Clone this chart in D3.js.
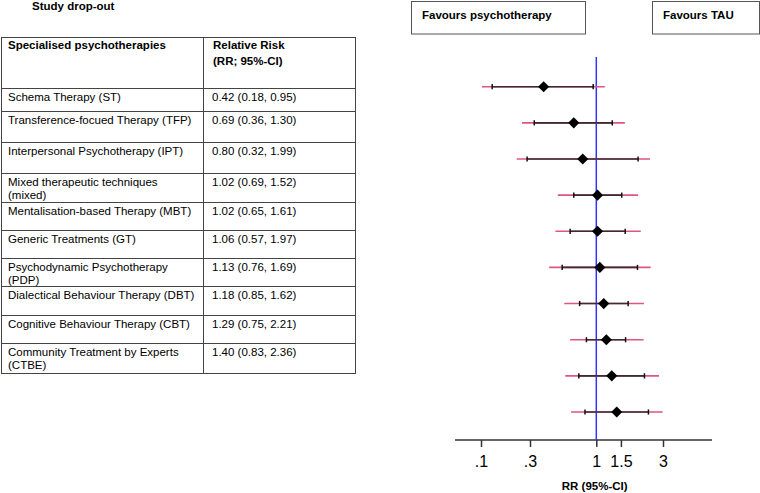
<!DOCTYPE html>
<html><head><meta charset="utf-8">
<script src="https://cdn.jsdelivr.net/npm/d3@7"></script>
<style>
body{margin:0;background:#fff}
svg{display:block}
text{font-family:"Liberation Sans",Arial,Helvetica,sans-serif;fill:#000}
</style>
</head><body>
<svg id="chart" width="760" height="493"></svg>
<script>
// ---- data ----
const title = "Study drop-out";
const colHeader1 = "Specialised psychotherapies";
const colHeader2 = ["Relative Risk", "(RR; 95%-CI)"];
const favourLabels = ["Favours psychotherapy", "Favours TAU"];
const axisTitle = "RR (95%-CI)";
const categories = [
  "Schema Therapy (ST)",
  "Transference-focued Therapy (TFP)",
  "Interpersonal Psychotherapy (IPT)",
  "Mixed therapeutic techniques (mixed)",
  "Mentalisation-based Therapy (MBT)",
  "Generic Treatments (GT)",
  "Psychodynamic Psychotherapy (PDP)",
  "Dialectical Behaviour Therapy (DBT)",
  "Cognitive Behaviour Therapy (CBT)",
  "Community Treatment by Experts (CTBE)"
];
const rr     = [0.42, 0.69, 0.80, 1.02, 1.02, 1.06, 1.13, 1.18, 1.29, 1.40];
const ciLow  = [0.18, 0.36, 0.32, 0.69, 0.65, 0.57, 0.76, 0.85, 0.75, 0.83];
const ciHigh = [0.95, 1.30, 1.99, 1.52, 1.61, 1.97, 1.69, 1.62, 2.21, 2.36];
// prediction intervals (pink)
const piLow  = [0.152, 0.294, 0.27, 0.53, 0.51, 0.46, 0.59, 0.65, 0.60, 0.66];
const piHigh = [1.15, 1.60, 2.42, 1.99, 2.08, 2.45, 2.19, 2.18, 2.81, 2.98];
const tickValues = [0.1, 0.3, 1, 1.5, 3];
const tickLabels = [".1", ".3", "1", "1.5", "3"];

// ---- layout ----
const svg = d3.select("#chart");
const FONT = 11.5;

// title
svg.append("text").attr("x", 32).attr("y", 10)
  .attr("font-size", FONT).attr("font-weight", "bold").text(title);

// ---- table ----
const tbl = {left: 1, right: 355, divider: 203};
const rowLines = [37, 88, 111, 142, 173, 202, 230, 258, 286, 315, 343, 373];
const tg = svg.append("g").attr("stroke", "#444").attr("stroke-width", 1).attr("fill", "none");
tg.append("rect").attr("x", tbl.left + 0.5).attr("y", rowLines[0] + 0.5)
  .attr("width", tbl.right - tbl.left).attr("height", rowLines[rowLines.length - 1] - rowLines[0]);
tg.append("line").attr("x1", tbl.divider + 0.5).attr("x2", tbl.divider + 0.5)
  .attr("y1", rowLines[0]).attr("y2", rowLines[rowLines.length - 1]);
tg.selectAll("line.h").data(rowLines.slice(1, -1)).join("line").attr("class", "h")
  .attr("x1", tbl.left).attr("x2", tbl.right + 0.5)
  .attr("y1", d => d + 0.5).attr("y2", d => d + 0.5);

svg.append("text").attr("x", 8).attr("y", 49).attr("font-size", FONT)
  .attr("font-weight", "bold").text(colHeader1);
svg.selectAll("text.h2").data(colHeader2).join("text").attr("class", "h2")
  .attr("x", 213).attr("y", (d, i) => 49 + i * 15.5)
  .attr("font-size", FONT).attr("font-weight", "bold").text(d => d);

const fmt = d3.format(".2f");
categories.forEach((name, i) => {
  const top = rowLines[i + 1];
  const t = svg.append("text").attr("x", 8).attr("y", top + 13.2).attr("font-size", FONT).text(name);
  if (t.node().getComputedTextLength() > 190) {
    const k = name.lastIndexOf(" (");
    t.text(null);
    t.append("tspan").attr("x", 8).text(name.slice(0, k));
    t.append("tspan").attr("x", 8).attr("dy", 12.6).text(name.slice(k + 1));
  }
  svg.append("text").attr("x", 212).attr("y", top + 13.2).attr("font-size", FONT)
    .text(`${fmt(rr[i])} (${fmt(ciLow[i])}, ${fmt(ciHigh[i])})`);
});

// ---- favour boxes ----
const boxes = [{x: 411, w: 174}, {x: 652, w: 107}];
boxes.forEach((b, i) => {
  svg.append("rect").attr("x", b.x + 0.5).attr("y", 1.5).attr("width", b.w).attr("height", 32.5)
    .attr("fill", "none").attr("stroke", "#555");
  svg.append("text").attr("x", b.x + 11).attr("y", 19).attr("font-size", FONT)
    .attr("font-weight", "bold").text(favourLabels[i]);
});

// ---- forest plot ----
const x = d3.scaleLog().domain([0.1, 3]).range([456.5, 663]);
// axis labels as positioned in the original figure
const axisScale = d3.scaleLog().domain([0.1, 0.3, 1, 3]).range([481, 530, 596.3, 663]);
const y = d3.scalePoint().domain(categories).range([86.7, 412]);
const axisY = 440;

// axis
svg.append("line").attr("x1", 455).attr("x2", 712).attr("y1", axisY).attr("y2", axisY)
  .attr("stroke", "#333").attr("stroke-width", 1.5);
const ax = svg.append("g").attr("transform", `translate(0,${axisY})`)
  .call(d3.axisBottom(axisScale).tickValues(tickValues)
    .tickFormat((d, i) => tickLabels[i]).tickSize(7).tickPadding(9).tickSizeOuter(0));
ax.select(".domain").remove();
ax.selectAll(".tick line").attr("stroke", "#333").attr("stroke-width", 1.5);
ax.selectAll(".tick text").attr("font-size", 16).attr("fill", "#000")
  .attr("font-family", "'Liberation Sans',Arial,sans-serif");

svg.append("text").attr("x", 594.7).attr("y", 490).attr("text-anchor", "middle")
  .attr("font-size", FONT).attr("font-weight", "bold").text(axisTitle);

// reference line at RR = 1
svg.append("line").attr("x1", x(1)).attr("x2", x(1)).attr("y1", 57).attr("y2", axisY)
  .attr("stroke", "#3333ff").attr("stroke-width", 1.5);

const rows = svg.append("g");
categories.forEach((c, i) => {
  const yy = y(c);
  rows.append("line").attr("x1", x(piLow[i])).attr("x2", x(piHigh[i]))
    .attr("y1", yy).attr("y2", yy).attr("stroke", "#e0557f").attr("stroke-width", 1.6);
  rows.append("line").attr("x1", x(ciLow[i])).attr("x2", x(ciHigh[i]))
    .attr("y1", yy).attr("y2", yy).attr("stroke", "#3a2d33").attr("stroke-width", 1.6);
  [ciLow[i], ciHigh[i]].forEach(v => {
    rows.append("line").attr("x1", x(v)).attr("x2", x(v))
      .attr("y1", yy - 2.6).attr("y2", yy + 2.6).attr("stroke", "#111").attr("stroke-width", 1.5);
  });
  rows.append("path").attr("d", d3.symbol(d3.symbolSquare, 62)())
    .attr("transform", `translate(${x(rr[i])},${yy}) rotate(45)`).attr("fill", "#000");
});
</script>
</body></html>
